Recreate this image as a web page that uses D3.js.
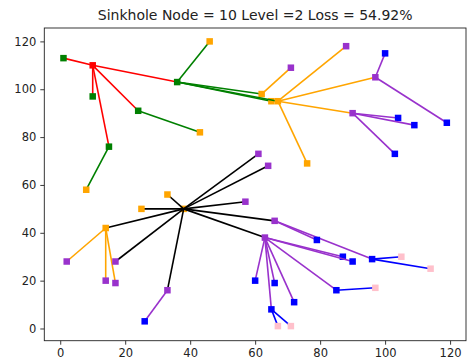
<!DOCTYPE html>
<html>
<head>
<meta charset="utf-8">
<script src="https://cdn.jsdelivr.net/npm/d3@7"></script>
<style>
    body { margin: 0; background: #fff; }
    .axis text { font-family: "DejaVu Sans", sans-serif; font-size: 11.5px; fill: #222; }
    .axis line { stroke: #222; stroke-width: 0.9; }
    .chart_title { font-family: "DejaVu Sans", sans-serif; font-size: 14px; fill: #222; }
</style>
</head>
<body>
<script>
// node positions and hop level (0 = sink root)
var nodeX = [10, 1, 10, 24, 36, 15,
             46, 62, 65, 67, 43, 76, 8, 38, 33, 25, 14,
             71, 88, 97, 90, 61, 64, 57, 66, 63, 2, 17, 14, 17, 33,
             100, 119, 104, 109, 103, 79, 96, 87, 90, 85, 60, 66, 72, 65, 26,
             105, 114, 97, 67, 71];
var nodeY = [110, 113, 97, 91, 103, 76,
             120, 98, 95, 95, 82, 69, 58, 50, 56, 50, 42,
             109, 118, 105, 90, 73, 68, 53, 45, 38, 28, 28, 20, 19, 16,
             115, 86, 88, 85, 73, 37, 29, 30, 28, 16, 20, 19, 11, 8, 3,
             30, 25, 17, 1, 1];
var nodeLevel = [0, 1, 1, 1, 1, 1,
                 2, 2, 2, 2, 2, 2, 2, 2, 2, 2, 2,
                 3, 3, 3, 3, 3, 3, 3, 3, 3, 3, 3, 3, 3, 3,
                 4, 4, 4, 4, 4, 4, 4, 4, 4, 4, 4, 4, 4, 4, 4,
                 5, 5, 5, 5, 5];
var levelColors = ["red", "green", "orange", "darkorchid", "blue", "pink"];

// routing edges [parent, child]
var edges = [[0, 1], [0, 2], [0, 3], [0, 5], [0, 4],
             [4, 6], [4, 7], [4, 8], [4, 9], [3, 10], [5, 12],
             [7, 17], [9, 18], [9, 19], [9, 20], [9, 11],
             [16, 26], [16, 28], [16, 29]];
// edges pulled in by the sinkhole node
var sinkEdges = [[13, 14], [13, 15], [13, 16], [13, 27], [13, 30],
                 [13, 21], [13, 22], [13, 23], [13, 24], [13, 25]];
var lateEdges = [[30, 45], [19, 31], [19, 32], [20, 33], [20, 34], [20, 35],
                 [24, 37], [24, 36], [25, 38], [25, 39], [25, 40], [25, 41],
                 [25, 42], [25, 43], [25, 44],
                 [37, 46], [37, 47], [40, 48], [44, 49], [44, 50]];
var roots = [0, 13];

var xTicks = [0, 20, 40, 60, 80, 100, 120];
var yTicks = [0, 20, 40, 60, 80, 100, 120];
var title = "Sinkhole Node = 10 Level =2 Loss = 54.92%";

var svg_width = 467, svg_height = 364;
var plot_left = 44.3, plot_right = 466, plot_top = 28, plot_bottom = 340.7;

var svg = d3.select("body")
        .append("svg")
        .attr("width", svg_width)
        .attr("height", svg_height);

var scale_x = d3.scaleLinear()
        .domain([-4.9, 124.9])
        .range([plot_left, plot_right]);
var scale_y = d3.scaleLinear()
        .domain([-5.1, 125.6])
        .range([plot_bottom, plot_top]);

var plot = svg.append("g");

function drawNode(i){
    var s = 6.5;
    plot.append("rect")
            .attr("x", scale_x(nodeX[i]) - s/2)
            .attr("y", scale_y(nodeY[i]) - s/2)
            .attr("width", s)
            .attr("height", s)
            .style("fill", levelColors[nodeLevel[i]]);
}

function drawEdge(e, color){
    plot.append("line")
            .attr("x1", scale_x(nodeX[e[0]]))
            .attr("y1", scale_y(nodeY[e[0]]))
            .attr("x2", scale_x(nodeX[e[1]]))
            .attr("y2", scale_y(nodeY[e[1]]))
            .style("stroke", color)
            .style("stroke-width", 1.6);
    drawNode(e[1]);
}

for (var r of roots){ drawNode(r); }
for (var e of edges){ drawEdge(e, levelColors[nodeLevel[e[0]]]); }
for (var e of sinkEdges){ drawEdge(e, "black"); }
for (var e of lateEdges){ drawEdge(e, levelColors[nodeLevel[e[0]]]); }

// axes
var x_axis = svg.append("g")
        .attr("class", "axis")
        .attr("transform", "translate(0," + plot_bottom + ")")
        .call(d3.axisBottom(scale_x)
                .tickValues(xTicks)
                .tickSize(4)
                .tickPadding(4));
var y_axis = svg.append("g")
        .attr("class", "axis")
        .attr("transform", "translate(" + plot_left + ",0)")
        .call(d3.axisLeft(scale_y)
                .tickValues(yTicks)
                .tickSize(4)
                .tickPadding(4));
svg.selectAll(".axis .domain").remove();

// frame
svg.append("rect")
        .attr("x", plot_left)
        .attr("y", plot_top)
        .attr("width", plot_right - plot_left)
        .attr("height", plot_bottom - plot_top)
        .style("fill", "none")
        .style("stroke", "#222")
        .style("stroke-width", 0.9);

// title
svg.append("text")
        .text(title)
        .attr("class", "chart_title")
        .attr("x", (plot_left + plot_right)/2)
        .attr("y", 20)
        .attr("text-anchor", "middle");
</script>
</body>
</html>
